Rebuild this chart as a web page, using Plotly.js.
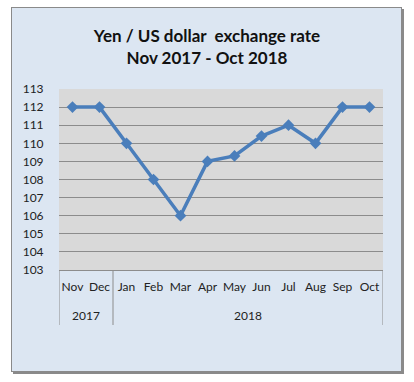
<!DOCTYPE html>
<html><head><meta charset="utf-8">
<script src="https://cdn.plot.ly/plotly-3.0.1.min.js"></script>
<style>
html,body{margin:0;padding:0;background:#fff;}
#frame{position:absolute;left:11px;top:7px;width:389px;height:363px;background:#dce6f2;border:1px solid #8a8a8a;box-shadow:2px 2px 0 #8a8a8a;}
#chart{position:absolute;left:0;top:0;width:414px;height:382px;}
</style></head>
<body>
<div id="frame"></div>
<div id="chart"></div>
<script>
const months = ["Nov","Dec","Jan","Feb","Mar","Apr","May","Jun","Jul","Aug","Sep","Oct"];
const rates = [112, 112, 110, 108, 106, 109, 109.3, 110.4, 111, 110, 112, 112];
const yTicks = [103,104,105,106,107,108,109,110,111,112,113];
const yearLabels = ["2017","2018"];
const yearStart = [0, 2];   // index of first month in each year group
const yearEnd = [1, 11];    // index of last month in each year group

const plotH = 382 - 89 - 112;
const shapes = [];
const annotations = [];
yearLabels.forEach((yl, i) => {
  annotations.push({
    text: yl, xref: 'x', yref: 'paper',
    x: (yearStart[i] + yearEnd[i]) / 2, y: -(315 - 270) / plotH,
    showarrow: false, xanchor: 'center', yanchor: 'middle',
    font: {size: 12, color: '#222'}
  });
  shapes.push({
    type: 'line', xref: 'x', yref: 'paper',
    x0: yearStart[i] - 0.5, x1: yearStart[i] - 0.5, y0: 0, y1: -(325 - 270) / plotH,
    line: {color: '#8c8c8c', width: 1}
  });
});
shapes.push({
  type: 'line', xref: 'x', yref: 'paper',
  x0: yearEnd[yearEnd.length - 1] + 0.5, x1: yearEnd[yearEnd.length - 1] + 0.5,
  y0: 0, y1: -(325 - 270) / plotH,
  line: {color: '#8c8c8c', width: 1}
});

const trace = {
  x: months,
  y: rates,
  type: 'scatter',
  mode: 'lines+markers',
  line: {color: '#4a7ebb', width: 3.5},
  marker: {symbol: 'diamond', size: 9, color: '#4a7ebb'},
  hoverinfo: 'skip',
  cliponaxis: false
};
const layout = {
  width: 414, height: 382,
  margin: {l: 59, r: 31, t: 89, b: 112},
  paper_bgcolor: 'rgba(0,0,0,0)',
  plot_bgcolor: '#d9d9d9',
  showlegend: false,
  font: {family: 'Lato, "Open Sans", sans-serif', size: 12, color: '#222'},
  title: {
    text: '<b>Yen / US dollar  exchange rate<br>Nov 2017 - Oct 2018</b>',
    font: {family: 'Lato, "Open Sans", sans-serif', size: 17, color: '#111'},
    x: 0.5, xanchor: 'center', xref: 'container',
    y: 1 - 42/382, yanchor: 'top', yref: 'container'
  },
  xaxis: {
    type: 'category',
    range: [-0.5, 11.5],
    showgrid: false,
    showline: true, linecolor: '#8c8c8c', linewidth: 1,
    tickfont: {size: 12, color: '#222'},
    tickangle: 0,
    ticks: 'outside', ticklen: 6, tickcolor: 'rgba(0,0,0,0)',
    fixedrange: true
  },
  yaxis: {
    range: [103, 113],
    tickvals: yTicks,
    ticktext: yTicks.map(String),
    showgrid: true, gridcolor: '#8c8c8c', gridwidth: 1,
    zeroline: false,
    showline: false,
    ticks: 'outside', ticklen: 12, tickcolor: 'rgba(0,0,0,0)',
    tickfont: {size: 12, color: '#222'},
    fixedrange: true
  },
  shapes: shapes,
  annotations: annotations
};
Plotly.newPlot('chart', [trace], layout, {displayModeBar: false, staticPlot: true});
</script>
</body></html>
